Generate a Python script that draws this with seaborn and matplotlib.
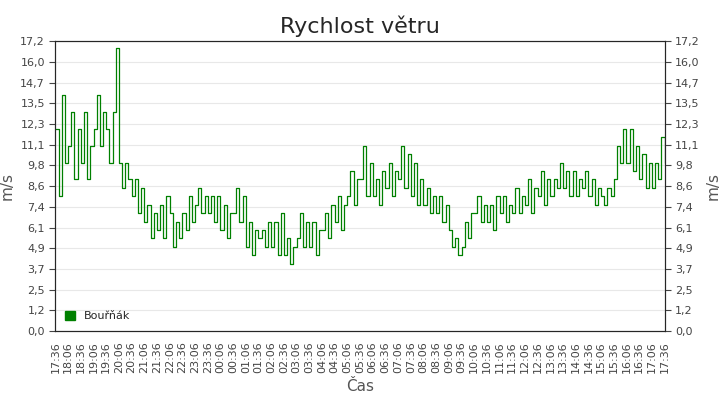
import numpy as np
import pandas as pd
import seaborn as sns
import matplotlib.pyplot as plt
import matplotlib.dates as mdates
from matplotlib.patches import Patch

# wind speed, one value per 7.5 minutes
speed = [
    12, 8, 14, 10, 11, 13, 9, 12, 10, 13, 9, 11, 12, 14, 11, 13,
    12, 10, 13, 16.8, 10, 8.5, 10, 9, 8, 9, 7, 8.5, 6.5, 7.5, 5.5, 7,
    6, 7.5, 5.5, 8, 7, 5, 6.5, 5.5, 7, 6, 8, 6.5, 7.5, 8.5, 7, 8,
    7, 8, 6.5, 8, 6, 7.5, 5.5, 7, 7, 8.5, 6.5, 8, 5, 6.5, 4.5, 6,
    5.5, 6, 5, 6.5, 5, 6.5, 4.5, 7, 4.5, 5.5, 4, 5, 5.5, 7, 5, 6.5,
    5, 6.5, 4.5, 6, 6, 7, 5.5, 7.5, 6.5, 8, 6, 7.5, 8, 9.5, 7.5, 9,
    9, 11, 8, 10, 8, 9, 7.5, 9.5, 8.5, 10, 8, 9.5, 9, 11, 8.5, 10.5,
    8, 10, 7.5, 9, 7.5, 8.5, 7, 8, 7, 8, 6.5, 7.5, 6, 5, 5.5, 4.5,
    5, 6.5, 5.5, 7, 7, 8, 6.5, 7.5, 6.5, 7.5, 6, 8, 7, 8, 6.5, 7.5,
    7, 8.5, 7, 8, 7.5, 9, 7, 8.5, 8, 9.5, 7.5, 9, 8, 9, 8.5, 10,
    8.5, 9.5, 8, 9.5, 8, 9, 8.5, 9.5, 8, 9, 7.5, 8.5, 8, 7.5, 8.5, 8,
    9, 11, 10, 12, 10, 12, 9.5, 11, 9, 10.5, 8.5, 10, 8.5, 10, 9, 11.5, 10,
]
start = pd.Timestamp('2024-01-01 17:36')
times = pd.date_range(start, periods=len(speed), freq='7.5min')
df = pd.DataFrame({'Čas': times, 'speed': speed})

yticks = np.linspace(0, 17.2, 15)
ylabels = [f'{v:.1f}'.replace('.', ',') for v in yticks]

sns.set_style('white')
fig, ax = plt.subplots(figsize=(7.2, 4.0), dpi=100)
sns.lineplot(data=df, x='Čas', y='speed', ax=ax, color='#008000', lw=0.9,
             drawstyle='steps-post', legend=False)

ax.set_xlim(times[0], times[-1])
ax.set_ylim(0, 17.2)
ax.set_yticks(yticks)
ax.set_yticklabels(ylabels)
ax.yaxis.grid(True, color='#e8e8e8', lw=0.8)
ax.set_xticks(pd.date_range(start, start + pd.Timedelta(hours=24), freq='30min'))
ax.xaxis.set_major_formatter(mdates.DateFormatter('%H:%M'))
ax.tick_params(axis='x', rotation=90, labelsize=8, colors='#444444', length=4)
ax.tick_params(axis='y', labelsize=8, colors='#444444', length=4)
ax.set_xlabel('Čas', fontsize=11, color='#555555')
ax.set_ylabel('m/s', fontsize=11, color='#555555')
ax.set_title('Rychlost větru', fontsize=16)

ax2 = ax.twinx()
ax2.set_ylim(0, 17.2)
ax2.set_yticks(yticks)
ax2.set_yticklabels(ylabels)
ax2.tick_params(axis='y', labelsize=8, colors='#444444', length=4)
ax2.set_ylabel('m/s', fontsize=11, color='#555555')

ax.legend(handles=[Patch(color='#008000', label='Bouřňák')], loc='lower left',
          frameon=False, fontsize=8, handlelength=0.9, handleheight=0.9,
          handletextpad=0.8)

fig.subplots_adjust(left=0.077, right=0.923, top=0.897, bottom=0.172)
fig.savefig('out.png')
